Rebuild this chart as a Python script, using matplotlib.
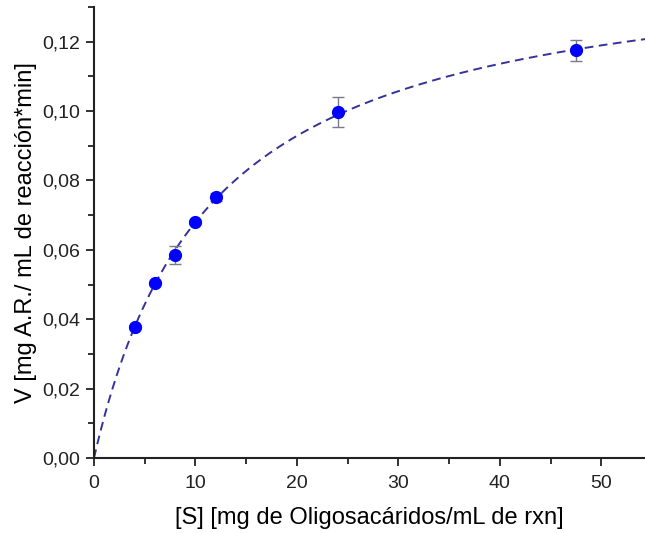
import numpy as np
import matplotlib.pyplot as plt
from matplotlib.ticker import MultipleLocator, FuncFormatter

plt.rcParams['font.family'] = ['Liberation Sans', 'DejaVu Sans']

# datos
sustrato = np.array([4, 6, 8, 10, 12, 24, 47.5])
velocidad = np.array([0.0377, 0.0505, 0.0585, 0.0680, 0.0753, 0.0997, 0.1175])
error = np.array([0.0006, 0.0006, 0.0025, 0.0007, 0.0012, 0.0044, 0.0031])

# ajuste Michaelis-Menten (Hanes-Woolf) a partir de los datos
pend, inter = np.polyfit(sustrato, sustrato / velocidad, 1)
vmax = 1 / pend
km = inter * vmax
s_fit = np.linspace(0, 55, 300)
v_fit = vmax * s_fit / (km + s_fit)

fig = plt.figure(figsize=(6.45, 5.33), dpi=100)
ax = fig.add_axes([0.1457, 0.1407, 0.8543, 0.8463])

ax.plot(s_fit, v_fit, '--', color='#33339a', lw=1.4, dashes=(4.5, 2.8))
ax.errorbar(sustrato, velocidad, yerr=error, fmt='o', color='#0000ff', ms=8.5,
            ecolor='#7a7a8a', elinewidth=1, capsize=4, capthick=1, zorder=3)

ax.set_xlim(0, 54.3)
ax.set_ylim(0, 0.130)
ax.xaxis.set_major_locator(MultipleLocator(10))
ax.xaxis.set_minor_locator(MultipleLocator(5))
ax.yaxis.set_major_locator(MultipleLocator(0.02))
ax.yaxis.set_minor_locator(MultipleLocator(0.01))
ax.yaxis.set_major_formatter(FuncFormatter(lambda v, p: ('%.2f' % v).replace('.', ',')))

for s in ['top', 'right']:
    ax.spines[s].set_visible(False)
for s in ['left', 'bottom']:
    ax.spines[s].set_linewidth(1.5)
    ax.spines[s].set_color('#222222')
ax.tick_params(which='major', direction='out', length=6, width=1.3, labelsize=14,
               colors='#222222', pad=4)
ax.tick_params(axis='x', which='major', pad=6)
ax.tick_params(which='minor', direction='out', length=4, width=1.3, colors='#222222')

ax.set_xlabel('[S] [mg de Oligosacáridos/mL de rxn]', fontsize=17, labelpad=11)
ax.set_ylabel('V [mg A.R./ mL de reacción*min]', fontsize=17, labelpad=4)

fig.savefig('out.png', dpi=100)
